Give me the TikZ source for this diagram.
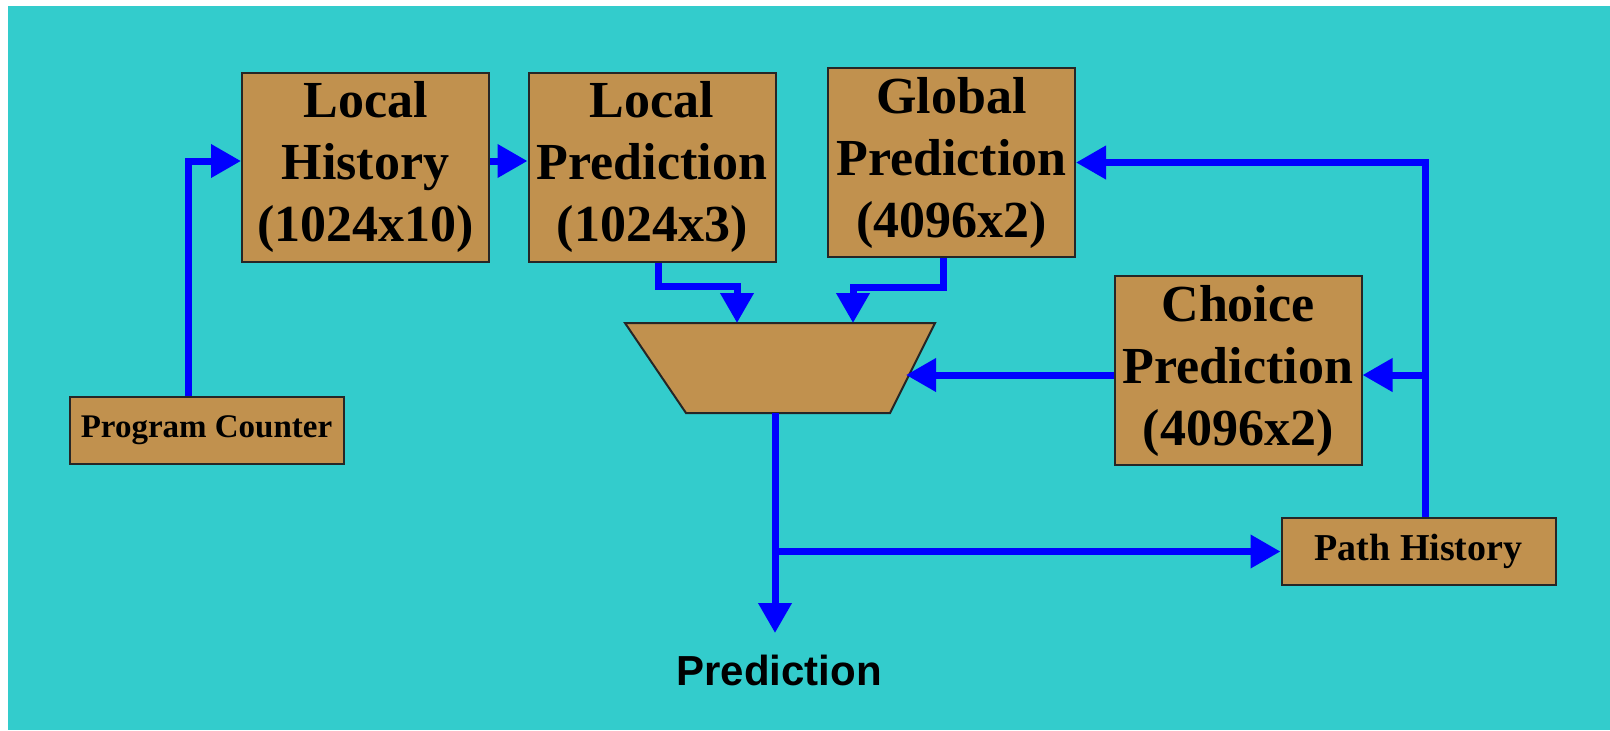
\documentclass[tikz,border=0pt]{standalone}
\usepackage{fontspec}
\setmainfont{Liberation Serif}
\newfontfamily\labelfont{Liberation Sans}
\usetikzlibrary{arrows.meta}
\definecolor{bgcyan}{RGB}{51,204,204}
\definecolor{boxtan}{RGB}{193,145,78}
\definecolor{wireblue}{RGB}{0,0,255}

\begin{document}
\begin{tikzpicture}[x = 0.5pt, y = -0.5pt,
        box/.style={draw=black!85, line width=1pt, fill=boxtan, inner sep=0pt, align=center,
            font=\bfseries\fontsize{26}{31}\selectfont, minimum width=123.5pt, minimum height=94.5pt},
        smallbox/.style={box, minimum width=137pt, minimum height=33.5pt},
        wire/.style={draw=wireblue, line width=3.5pt, -{Triangle[length=15pt, width=16pt]}}
]
    \fill[white] (0,0) rectangle (1610,730);
    \fill[bgcyan] (8,6) rectangle (1610,730);

    \node[box] (lh) at (365.5,167) {Local\\History\\(1024x10)};
    \node[box] (lp) at (652,167) {Local\\Prediction\\(1024x3)};
    \node[box] (gp) at (951.5,162.5) {Global\\Prediction\\(4096x2)};
    \node[box] (ch) at (1238,370.5) {Choice\\Prediction\\(4096x2)};
    \node[smallbox, font=\bfseries\fontsize{16.5}{20}\selectfont] (pc) at (206.5,430) {Program Counter};
    \node[smallbox, font=\bfseries\fontsize{19}{23}\selectfont] (ph) at (1418.5,551.5) {Path History};
    \node[inner sep=0pt, anchor=north, font=\labelfont\bfseries\fontsize{21}{25}\selectfont] (pred) at (779,655) {Prediction};

    % selector
    \filldraw[fill=boxtan, draw=black!85, line width=1pt] (625,323) -- (935,323) -- (890,413) -- (686,413) -- cycle;
    \coordinate (in1) at (737,323);
    \coordinate (in2) at (853,323);
    \coordinate (in3) at (906,375);
    \coordinate (out) at (775,413);
    \coordinate (tip) at (775,633);
    \coordinate (bus) at (1425,375);

\begin{scope}[every path/.style={wire}]
    \draw ([xshift=-9pt]pc.north) |- ([yshift=3pt]lh.west);
    \draw ([yshift=3pt]lh.east) -- ([yshift=3pt]lp.west);
    \draw ([xshift=3pt]lp.south) -- ++(0,24) -| (in1);
    \draw ([xshift=-4pt]gp.south) -- ++(0,29) -| (in2);
    \draw ([xshift=3.25pt]ph.north) |- (gp.east);
    \draw (bus) -- (bus -| ch.east);
    \draw (ch.west |- in3) -- (in3);
    \draw (out) -- (tip);
    \draw (out |- ph.west) -- (ph.west);
\end{scope}

\end{tikzpicture}
\end{document}
